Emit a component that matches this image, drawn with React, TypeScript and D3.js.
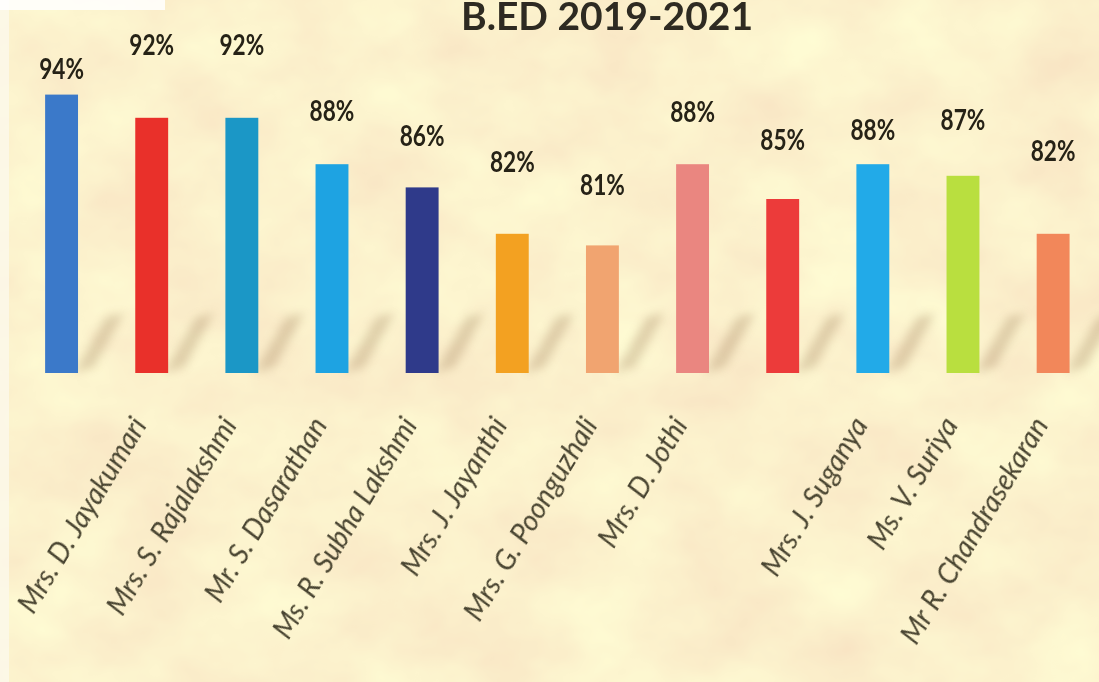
import React, { useRef, useEffect } from 'react';
import * as d3 from 'd3';

// B.ED 2019-2021 results
const names = [
  '', 'Mrs. D. Jayakumari', 'Mrs. S. Rajalakshmi', 'Mr. S. Dasarathan',
  'Ms. R. Subha Lakshmi', 'Mrs. J. Jayanthi', 'Mrs. G. Poonguzhali', 'Mrs. D. Jothi',
  '', 'Mrs. J. Suganya', 'Ms. V. Suriya', 'Mr R. Chandrasekaran'
];
const values = [94, 92, 92, 88, 86, 82, 81, 88, 85, 88, 87, 82];
const barColors = [
  '#3b79c9', '#e9302a', '#1b97c6', '#1ea3e2', '#2f3a8a', '#f3a121',
  '#f1a470', '#ea8680', '#ec3b3a', '#22aae8', '#b9df3f', '#f2875a'
];
const title = 'B.ED 2019-2021';

const W = 1099;
const H = 682;

const App = () => {
  const ref = useRef<SVGSVGElement>(null);

  useEffect(() => {
    const svg = d3.select(ref.current);
    svg.selectAll('*').remove();

    const defs = svg.append('defs');

    // parchment look: one noise channel mapped from peach to pale yellow
    const paper = defs.append('filter').attr('id', 'paper')
      .attr('x', 0).attr('y', 0).attr('width', '100%').attr('height', '100%');
    paper.append('feTurbulence')
      .attr('type', 'fractalNoise')
      .attr('baseFrequency', '0.009 0.012')
      .attr('numOctaves', 4)
      .attr('seed', 7);
    paper.append('feColorMatrix')
      .attr('type', 'matrix')
      .attr('values', '0.07 0 0 0 0.935  0.26 0 0 0 0.75  0.14 0 0 0 0.535  0 0 0 0 1');

    const blur = defs.append('filter').attr('id', 'soft')
      .attr('x', '-50%').attr('y', '-50%').attr('width', '200%').attr('height', '200%');
    blur.append('feGaussianBlur').attr('stdDeviation', 5);

    const textBlur = defs.append('filter').attr('id', 'ink');
    textBlur.append('feGaussianBlur').attr('stdDeviation', 0.5);

    svg.append('rect')
      .attr('width', W).attr('height', H)
      .attr('filter', 'url(#paper)');

    // light edges of the photo
    svg.append('rect').attr('x', 0).attr('y', 0).attr('width', 9).attr('height', H)
      .attr('fill', '#fcf8ea').attr('opacity', 0.85);
    svg.append('rect').attr('x', 0).attr('y', 0).attr('width', 165).attr('height', 10)
      .attr('fill', '#ffffff').attr('opacity', 0.85);

    // Scales
    const x = d3.scaleBand<number>()
      .domain(d3.range(values.length))
      .range([16.5, 1098.2])
      .paddingInner(0.635)
      .paddingOuter(0.3175);

    const y = d3.scaleLinear()
      .domain([70, 100])
      .range([373, 25]);

    const base = y(70);

    // blurred floor shadows behind the bars
    svg.append('g')
      .selectAll('path')
      .data(values)
      .join('path')
      .attr('d', (d, i) => {
        const x0 = (x(i) as number) + x.bandwidth();
        return `M${x0 - 4},${base} L${x0 + 16},${base - 6} L${x0 + 46},${base - 60} L${x0 + 28},${base - 56} Z`;
      })
      .attr('fill', '#9c7a55')
      .attr('opacity', 0.3)
      .attr('filter', 'url(#soft)');

    // Bars
    svg.append('g')
      .selectAll('rect')
      .data(values)
      .join('rect')
      .attr('x', (d, i) => x(i) as number)
      .attr('y', d => y(d))
      .attr('width', x.bandwidth())
      .attr('height', d => base - y(d))
      .attr('fill', (d, i) => barColors[i]);

    // value labels sit at uneven heights on the poster
    const labelLift = [16, 63, 63, 43, 41, 62, 50, 42, 49, 24, 46, 73];
    svg.append('g')
      .selectAll('text')
      .data(values)
      .join('text')
      .attr('transform', (d, i) =>
        `translate(${(x(i) as number) + x.bandwidth() / 2}, ${y(d) - labelLift[i]}) scale(0.78, 1)`)
      .attr('text-anchor', 'middle')
      .attr('filter', 'url(#ink)')
      .style('font-family', 'Lato, "Open Sans", sans-serif')
      .style('font-weight', 700)
      .style('font-size', '29px')
      .attr('fill', '#262418')
      .text(d => `${d}%`);

    // Category labels
    const xAxis = d3.axisBottom(x)
      .tickSize(0)
      .tickPadding(0)
      .tickFormat(i => names[i as number]);

    const axis = svg.append('g')
      .attr('transform', `translate(0, ${base})`)
      .call(xAxis);
    axis.select('.domain').remove();
    axis.selectAll('.tick text')
      .attr('text-anchor', 'end')
      .attr('dy', 0)
      .attr('transform', 'translate(-4, 52) rotate(-59)')
      .attr('filter', 'url(#ink)')
      .style('font-family', 'Lato, "Open Sans", sans-serif')
      .style('font-style', 'italic')
      .style('font-size', '28px')
      .attr('fill', '#4a4530');

    // Title
    svg.append('text')
      .attr('x', 607)
      .attr('y', 30)
      .attr('text-anchor', 'middle')
      .attr('filter', 'url(#ink)')
      .style('font-family', 'Lato, "Open Sans", sans-serif')
      .style('font-weight', 700)
      .style('font-size', '39px')
      .attr('fill', '#2d2c20')
      .text(title);
  }, []);

  return (
    <svg
      ref={ref}
      width={W}
      height={H}
      style={{ position: 'absolute', left: 0, top: 0, display: 'block' }}
    />
  );
};

export default App;
